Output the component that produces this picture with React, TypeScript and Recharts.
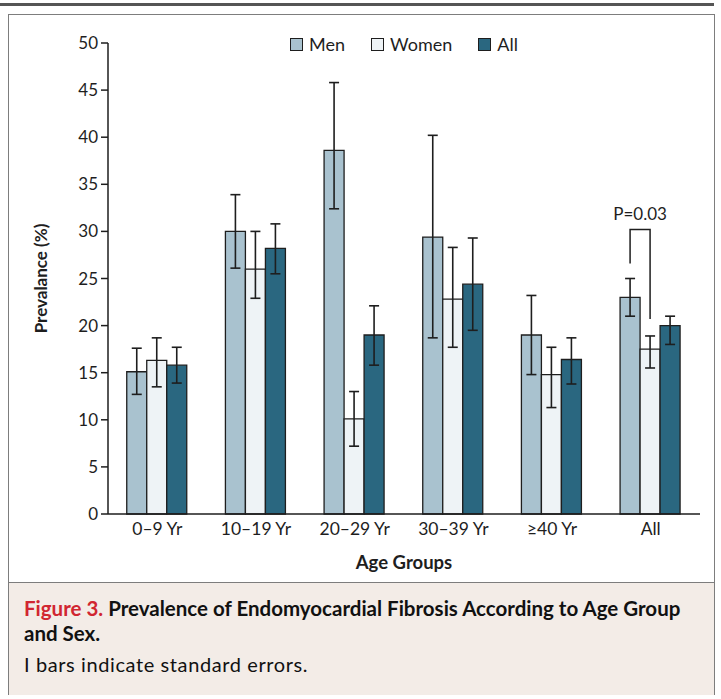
import React from "react";
import {
  BarChart,
  Bar,
  XAxis,
  YAxis,
  Legend,
  ErrorBar,
  LabelList,
  Label,
} from "recharts";

const ageGroups = ["0–9 Yr", "10–19 Yr", "20–29 Yr", "30–39 Yr", "≥40 Yr", "All"];
const seriesNames = ["Men", "Women", "All"];
const menValues = [15.1, 30.0, 38.6, 29.4, 19.0, 23.0];
const womenValues = [16.3, 26.0, 10.1, 22.8, 14.8, 17.5];
const allValues = [15.8, 28.2, 19.0, 24.4, 16.4, 20.0];
// [below, above] standard error
const menErrors = [[2.4, 2.5], [3.9, 3.9], [6.2, 7.2], [10.7, 10.8], [4.2, 4.2], [2.0, 2.0]];
const womenErrors = [[2.8, 2.4], [3.1, 4.0], [2.9, 2.9], [5.1, 5.5], [3.5, 2.9], [2.0, 1.4]];
const allErrors = [[1.9, 1.9], [2.7, 2.6], [3.2, 3.1], [4.9, 4.9], [2.6, 2.3], [2.0, 1.0]];
const yTicks = [0, 5, 10, 15, 20, 25, 30, 35, 40, 45, 50];

// P value bracket between men and women in the "All" group
const pLabel = "P=0.03";
const bracketTop = 30.2;
const bracketLeftEnd = 26.6;
const bracketRightEnd = 20.7;

const MEN_COLOR = "#a9c2cf";
const WOMEN_COLOR = "#eef3f6";
const ALL_COLOR = "#2a6780";
const INK = "#1e1e1e";
const FONT = "Lato, 'Open Sans', sans-serif";

const data = ageGroups.map((group, i) => ({
  group,
  men: menValues[i],
  women: womenValues[i],
  all: allValues[i],
  menErr: menErrors[i],
  womenErr: womenErrors[i],
  allErr: allErrors[i],
}));

function renderBracket(props: any) {
  const idx = props.index;
  if (idx !== ageGroups.length - 1 && props.value !== menValues[menValues.length - 1]) return null;
  const vb = props.viewBox ?? props;
  const { x, y, width, height } = vb;
  const value = menValues[menValues.length - 1];
  const base = y + height;
  const k = height / value;
  const toY = (v: number) => base - v * k;
  const xl = x + width / 2;
  const xr = x + width * 1.5;
  return (
    <g>
      <polyline
        points={`${xl},${toY(bracketLeftEnd)} ${xl},${toY(bracketTop)} ${xr},${toY(bracketTop)} ${xr},${toY(bracketRightEnd)}`}
        fill="none"
        stroke={INK}
        strokeWidth={1.5}
      />
      <text
        x={(xl + xr) / 2}
        y={toY(bracketTop) - 10}
        textAnchor="middle"
        fontSize={17}
        fontFamily={FONT}
        fill={INK}
      >
        {pLabel}
      </text>
    </g>
  );
}

function LegendContent({ payload }: any) {
  const items = [...(payload ?? [])].sort(
    (a: any, b: any) => seriesNames.indexOf(a.value) - seriesNames.indexOf(b.value)
  );
  return (
    <div style={{ display: "flex", justifyContent: "center", gap: 26, fontFamily: FONT, fontSize: 18, color: INK }}>
      {items.map((p: any) => (
        <div key={p.value} style={{ display: "flex", alignItems: "center", gap: 6 }}>
          <span
            style={{
              width: 11,
              height: 11,
              background: p.color,
              border: `1.5px solid ${INK}`,
              display: "inline-block",
            }}
          />
          <span>{p.value}</span>
        </div>
      ))}
    </div>
  );
}

export default function App() {
  return (
    <div style={{ position: "absolute", left: 0, top: 0, width: 721, height: 699, background: "#fff", fontFamily: FONT }}>
      <div style={{ position: "absolute", left: 0, top: 3, width: 714, height: 3, background: "#555" }} />
      <div
        style={{
          position: "absolute",
          left: 8,
          top: 14,
          width: 707,
          height: 681,
          border: "1.5px solid #7d7d7d",
          boxSizing: "border-box",
          background: "#fff",
        }}
      />
      <div
        style={{
          position: "absolute",
          left: 9,
          top: 582,
          width: 705,
          height: 112,
          background: "#f3ece7",
          borderTop: "1.5px solid #7d7d7d",
        }}
      />
      <div style={{ position: "absolute", left: 0, top: 0 }}>
        <BarChart
          width={721}
          height={583}
          data={data}
          margin={{ top: 43, right: 21, left: 0, bottom: 0 }}
          barCategoryGap="19%"
          barGap={0}
        >
          <XAxis
            dataKey="group"
            height={69}
            tickLine={false}
            axisLine={{ stroke: INK, strokeWidth: 1.5 }}
            tick={{ fill: INK, fontSize: 17.5, fontFamily: FONT }}
            tickMargin={3}
          >
            <Label
              value="Age Groups"
              position="insideBottom"
              offset={14}
              style={{ fill: INK, fontSize: 18.5, fontWeight: 700, fontFamily: FONT }}
            />
          </XAxis>
          <YAxis
            width={108}
            domain={[0, 50]}
            ticks={yTicks}
            interval={0}
            tickSize={7}
            tickLine={{ stroke: INK, strokeWidth: 1.5 }}
            axisLine={{ stroke: INK, strokeWidth: 1.5 }}
            tick={{ fill: INK, fontSize: 17, fontFamily: FONT }}
            tickMargin={3}
          >
            <Label
              value="Prevalance (%)"
              angle={-90}
              position="insideLeft"
              offset={41}
              style={{ fill: INK, fontSize: 17, fontWeight: 700, fontFamily: FONT, textAnchor: "middle" }}
            />
          </YAxis>
          <Legend
            layout="horizontal"
            verticalAlign="middle"
            align="center"
            content={<LegendContent />}
            wrapperStyle={{ top: 33, left: 108, width: 592 }}
          />
          <Bar dataKey="men" name="Men" fill={MEN_COLOR} stroke={INK} strokeWidth={1.3} isAnimationActive={false}>
            <ErrorBar dataKey="menErr" width={5} stroke={INK} strokeWidth={1.6} direction="y" />
            <LabelList dataKey="men" content={renderBracket} />
          </Bar>
          <Bar dataKey="women" name="Women" fill={WOMEN_COLOR} stroke={INK} strokeWidth={1.3} isAnimationActive={false}>
            <ErrorBar dataKey="womenErr" width={5} stroke={INK} strokeWidth={1.6} direction="y" />
          </Bar>
          <Bar dataKey="all" name="All" fill={ALL_COLOR} stroke={INK} strokeWidth={1.3} isAnimationActive={false}>
            <ErrorBar dataKey="allErr" width={5} stroke={INK} strokeWidth={1.6} direction="y" />
          </Bar>
        </BarChart>
      </div>
      <div
        style={{
          position: "absolute",
          left: 24,
          top: 596,
          width: 690,
          fontSize: 20.5,
          lineHeight: "25px",
          color: "#111",
        }}
      >
        <div style={{ fontWeight: 700, whiteSpace: "nowrap" }}>
          <span style={{ color: "#d12631" }}>Figure 3.</span>
          <span> Prevalence of Endomyocardial Fibrosis According to Age Group</span>
        </div>
        <div style={{ fontWeight: 700 }}>and Sex.</div>
        <div style={{ marginTop: 6, fontSize: 20, letterSpacing: 0.6 }}>I bars indicate standard errors.</div>
      </div>
    </div>
  );
}
